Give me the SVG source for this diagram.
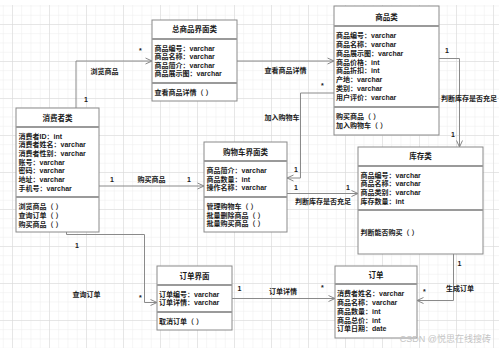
<svg xmlns="http://www.w3.org/2000/svg" width="499" height="348" viewBox="0 0 499 348">
<defs>
<pattern id="minor" x="12" y="24" width="9.25" height="9.25" patternUnits="userSpaceOnUse">
<path d="M0 0V9.25M0 0H9.25" fill="none" stroke="#ececec" stroke-width="1"/>
</pattern>
<pattern id="major" x="12" y="24" width="37" height="37" patternUnits="userSpaceOnUse">
<path d="M0 0V37M0 0H37" fill="none" stroke="#d8d8d8" stroke-width="1"/>
</pattern>
<marker id="arr" viewBox="0 0 8 8" refX="7.5" refY="4" markerWidth="8" markerHeight="8" markerUnits="userSpaceOnUse" orient="auto">
<path d="M1 1L7.5 4L1 7" fill="none" stroke="#888" stroke-width="1"/>
</marker>
<style>
.box{fill:#fff;stroke:#8a8a8a;stroke-width:1}
.sep{stroke:#9a9a9a;stroke-width:2}
text{font-family:"Liberation Sans","Noto Sans CJK SC",sans-serif;font-size:7px;font-weight:bold;fill:#1a1a1a}
.h{text-anchor:middle;font-size:7.5px}
.c{text-anchor:middle}
.ln{fill:none;stroke:#8a8a8a;stroke-width:1;marker-end:url(#arr)}
.wm{font-size:9px;font-weight:normal;fill:#c4c4c4;text-anchor:end}
</style>
</defs>
<rect width="499" height="348" fill="#fff"/>
<rect x="0" y="5" width="499" height="343" fill="url(#minor)"/>
<rect x="0" y="5" width="499" height="343" fill="url(#major)"/>

<g id="connectors">
<polyline class="ln" points="76,108 76,61 152,61"/>
<polyline class="ln" points="237,61 334,61"/>
<polyline class="ln" points="334,93 300.5,93 300.5,178 287,178"/>
<polyline class="ln" points="439,58.5 459.5,58.5 459.5,147"/>
<polyline class="ln" points="287,193.5 358,193.5"/>
<polyline class="ln" points="99,186 204,186"/>
<polyline class="ln" points="66.5,232 66.5,234.5 144.5,234.5 144.5,302.5 157,302.5"/>
<polyline class="ln" points="232,298.5 335,298.5"/>
<polyline class="ln" points="453.5,254 453.5,300.5 417,300.5"/>
<text class="c" x="104.5" y="73.5">浏览商品</text>
<text x="84" y="102">1</text>
<text x="139" y="53">*</text>
<text class="c" x="285.5" y="73">查看商品详情</text>
<text x="321" y="88">*</text>
<text class="c" x="282" y="120">加入购物车</text>
<text x="294" y="172">1</text>
<text x="445" y="53">1</text>
<text class="c" x="469" y="101">判断库存是否充足</text>
<text x="451" y="137">1</text>
<text x="294" y="189.5">1</text>
<text x="346" y="189.5">1</text>
<text class="c" x="323" y="203.5">判断库存是否充足</text>
<text x="110" y="182">1</text>
<text class="c" x="151.5" y="182">购买商品</text>
<text x="187" y="182">1</text>
<text x="75" y="248">1</text>
<text class="c" x="86.5" y="297">查询订单</text>
<text x="139" y="300">*</text>
<text x="237.5" y="290.5">1</text>
<text class="c" x="283" y="294">订单详情</text>
<text x="321" y="290">*</text>
<text x="457.5" y="265.5">1</text>
<text class="c" x="460" y="291">生成订单</text>
<text x="423" y="294">*</text>
</g>

<g id="zongshangpin">
<rect class="box" x="152" y="20" width="85" height="81"/>
<line class="sep" x1="152" y1="39" x2="237" y2="39"/>
<line class="sep" x1="152" y1="83" x2="237" y2="83"/>
<text class="h" x="194.5" y="31.5">总商品界面类</text>
<text x="154.5" y="50.5">商品编号：varchar</text>
<text x="154.5" y="59">商品名称：varchar</text>
<text x="154.5" y="67.5">商品简介：varchar</text>
<text x="154.5" y="76">商品展示图：varchar</text>
<text x="154.5" y="94.5">查看商品详情（ ）</text>
</g>

<g id="shangpin">
<rect class="box" x="334" y="6" width="105" height="129"/>
<line class="sep" x1="334" y1="26" x2="439" y2="26"/>
<line class="sep" x1="334" y1="107" x2="439" y2="107"/>
<text class="h" x="386.5" y="19.5">商品类</text>
<text x="336" y="38">商品编号：varchar</text>
<text x="336" y="47">商品名称：varchar</text>
<text x="336" y="55.5">商品展示图：varchar</text>
<text x="336" y="64.5">商品价格：int</text>
<text x="336" y="73">商品折扣：int</text>
<text x="336" y="82">产地：varchar</text>
<text x="336" y="90.5">类别：varchar</text>
<text x="336" y="99.5">用户评价：varchar</text>
<text x="336" y="119">购买商品（ ）</text>
<text x="336" y="128">加入购物车（ ）</text>
</g>

<g id="xiaofeizhe">
<rect class="box" x="16" y="108" width="83" height="124"/>
<line class="sep" x1="16" y1="127" x2="99" y2="127"/>
<line class="sep" x1="16" y1="197" x2="99" y2="197"/>
<text class="h" x="57.5" y="120.5">消费者类</text>
<text x="18.5" y="138.5">消费者ID：int</text>
<text x="18.5" y="147">消费者姓名：varchar</text>
<text x="18.5" y="156">消费者性别：varchar</text>
<text x="18.5" y="164.5">账号：varchar</text>
<text x="18.5" y="173">密码：varchar</text>
<text x="18.5" y="182">地址：varchar</text>
<text x="18.5" y="190.5">手机号：varchar</text>
<text x="18.5" y="209">浏览商品（ ）</text>
<text x="18.5" y="218">查询订单（ ）</text>
<text x="18.5" y="226.5">购买商品（ ）</text>
</g>

<g id="gouwuche">
<rect class="box" x="204" y="142" width="83" height="90"/>
<line class="sep" x1="204" y1="161" x2="287" y2="161"/>
<line class="sep" x1="204" y1="197" x2="287" y2="197"/>
<text class="h" x="245.5" y="154.5">购物车界面类</text>
<text x="206.5" y="173">商品简介：varchar</text>
<text x="206.5" y="181.5">商品数量：int</text>
<text x="206.5" y="190">操作名称：varchar</text>
<text x="206.5" y="208.5">管理购物车（ ）</text>
<text x="206.5" y="217.5">批量删除商品（ ）</text>
<text x="206.5" y="226">批量购买商品（ ）</text>
</g>

<g id="kucun">
<rect class="box" x="358" y="147" width="125" height="107"/>
<line class="sep" x1="358" y1="166" x2="483" y2="166"/>
<line class="sep" x1="358" y1="210" x2="483" y2="210"/>
<text class="h" x="420.5" y="159">库存类</text>
<text x="360.5" y="177.5">商品编号：varchar</text>
<text x="360.5" y="186">商品名称：varchar</text>
<text x="360.5" y="195">商品类别：varchar</text>
<text x="360.5" y="203.5">库存数量：int</text>
<text x="360.5" y="235">判断能否购买（ ）</text>
</g>

<g id="dingdanjiemian">
<rect class="box" x="157" y="266" width="75" height="64"/>
<line class="sep" x1="157" y1="285" x2="232" y2="285"/>
<line class="sep" x1="157" y1="312" x2="232" y2="312"/>
<text class="h" x="194.5" y="278.5">订单界面</text>
<text x="159" y="296.5">订单编号：varchar</text>
<text x="159" y="304.5">订单详情：varchar</text>
<text x="159" y="324">取消订单（ ）</text>
</g>

<g id="dingdan">
<rect class="box" x="335" y="266" width="82" height="72"/>
<line class="sep" x1="335" y1="284" x2="417" y2="284"/>
<text class="h" x="376" y="277.5">订单</text>
<text x="337" y="296">消费者姓名：varchar</text>
<text x="337" y="305">商品名称：varchar</text>
<text x="337" y="313.5">商品数量：int</text>
<text x="337" y="322.5">商品总价：int</text>
<text x="337" y="331">订单日期：date</text>
</g>

<text class="wm" x="491" y="342">CSDN @悦思在线搜砖</text>
</svg>
